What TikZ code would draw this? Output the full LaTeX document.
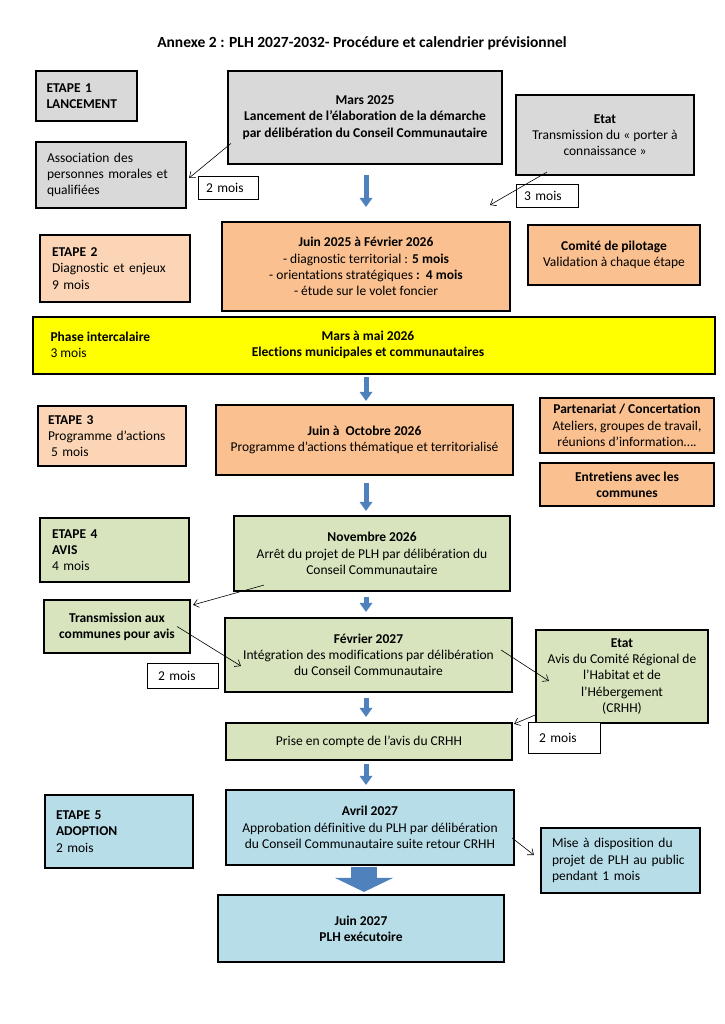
\documentclass[tikz,border=0pt]{standalone}
\usepackage{fontspec}
\setmainfont[Ligatures={TeX,NoCommon}]{Carlito}
\usetikzlibrary{arrows.meta}
\definecolor{grayf}{HTML}{D9D9D9}
\definecolor{orlight}{HTML}{FBD5B5}
\definecolor{ordark}{HTML}{FAC090}
\definecolor{greenf}{HTML}{D7E4BD}
\definecolor{bluef}{HTML}{B7DDE8}
\definecolor{yellowf}{HTML}{FFFF00}
\definecolor{arrowblue}{HTML}{4F81BD}
\newcommand\bx[7]{\node[#6, minimum width={(#4)-(#2)}, minimum height={(#5)-(#3)}] (#1) at ({((#2)+(#4))/2},{((#3)+(#5))/2}) {#7};}
\begin{document}
\begin{tikzpicture}[x=1pt,y=-1pt,
  txt/.style={font=\fontsize{13.5}{16.3}\selectfont},
  box/.style={txt, draw, line width=2.2pt, inner sep=0pt, align=center},
  lbox/.style={box, align=left},
  mbox/.style={txt, draw, line width=0.7pt, fill=white, inner sep=0pt, align=left},
  link/.style={line width=0.6pt, -{Straight Barb[length=5pt,width=8pt]}},
  barrow/.style={line width=5pt, draw=arrowblue, -{Triangle[length=9pt,width=13pt,line width=0pt]}},
  bigarrow/.style={line width=26pt, draw=arrowblue, -{Triangle[length=14pt,width=58pt,line width=0pt]}},
]
\useasboundingbox (0,0) rectangle (724,1024);
\fill[white] (0,0) rectangle (724,1024);

\node[font=\fontsize{15.5}{18}\selectfont] (title) at (362,43) {\textbf{Annexe 2 : PLH 2027-2032- Procédure et calendrier prévisionnel}};

% Etape 1
\bx{e1}{36}{71}{137}{121}{lbox,fill=grayf,text width=80pt}{\textbf{ETAPE 1}\\\textbf{LANCEMENT}}
\bx{mars}{228}{71}{502}{164}{box,fill=grayf}{\textbf{Mars 2025}\\\textbf{Lancement de l’élaboration de la démarche}\\\textbf{par délibération du Conseil Communautaire}}
\bx{etat}{516}{95}{694}{175}{box,fill=grayf}{\textbf{Etat}\\Transmission du « porter à\\connaissance »}
\bx{assoc}{36}{142}{186}{208}{lbox,fill=grayf,text width=128pt}{Association des\\personnes morales et\\qualifiées}
\bx{m1}{198}{176}{258}{199}{mbox,text width=44pt}{2 mois}
\bx{m2}{516}{184}{578}{207}{mbox,text width=46pt}{3 mois}

% Etape 2
\bx{e2}{40}{235}{190}{302}{lbox,fill=orlight,text width=126pt}{\textbf{ETAPE 2}\\Diagnostic et enjeux\\9 mois}
\bx{juin25}{222}{222}{510}{311}{box,fill=ordark}{\textbf{Juin 2025 à Février 2026}\\- diagnostic territorial : \textbf{5 mois}\\- orientations stratégiques \textbf{:\ \ 4 mois}\\- étude sur le volet foncier}
\bx{copil}{528}{225}{700}{285}{box,fill=ordark}{\textbf{Comité de pilotage}\\Validation à chaque étape}

% Phase intercalaire
\bx{phase}{33}{317}{715}{374}{box,fill=yellowf}{}
\node[txt, align=left, anchor=west] (phasel) at (47,345) {\textbf{Phase intercalaire}\\3 mois};
\node[txt, align=center] (phasec) at (368,345) {\textbf{Mars à mai 2026}\\\textbf{Elections municipales et communautaires}};

% Etape 3
\bx{e3}{38}{406}{186}{466}{lbox,fill=orlight,text width=128pt}{\textbf{ETAPE 3}\\Programme d’actions\\\hspace*{3pt}5 mois}
\bx{juinoct}{216}{405}{513}{475}{box,fill=ordark}{\textbf{Juin à\ \ Octobre 2026}\\Programme d’actions thématique et territorialisé}
\bx{parten}{540}{398}{714}{453}{box,fill=ordark}{\textbf{Partenariat / Concertation}\\Ateliers, groupes de travail,\\réunions d’information….}
\bx{entret}{540}{463}{714}{506}{box,fill=ordark}{\textbf{Entretiens avec les}\\\textbf{communes}}

% Etape 4
\bx{e4}{40}{518}{189}{582}{lbox,fill=greenf,text width=125pt}{\textbf{ETAPE 4}\\\textbf{AVIS}\\4 mois}
\bx{nov}{234}{516}{510}{591}{box,fill=greenf}{\textbf{Novembre 2026}\\Arrêt du projet de PLH par délibération du\\Conseil Communautaire}
\bx{trans}{44}{600}{190}{653}{box,fill=greenf}{\textbf{Transmission aux}\\\textbf{communes pour avis}}
\bx{fev}{225}{618}{512}{692}{box,fill=greenf}{\textbf{Février 2027}\\Intégration des modifications par délibération\\du Conseil Communautaire}
\bx{m3}{147}{663}{218}{688}{mbox,text width=49pt}{2 mois}
\bx{etat2}{536}{630}{708}{723}{box,fill=greenf}{\textbf{Etat}\\Avis du Comité Régional de\\l’Habitat et de\\l’Hébergement\\(CRHH)}
\bx{prise}{226}{723}{512}{760}{box,fill=greenf}{Prise en compte de l’avis du CRHH}
\bx{m4}{528}{722}{600}{753}{mbox,text width=50pt}{2 mois}

% Etape 5
\bx{e5}{45}{795}{193}{868}{lbox,fill=bluef,text width=126pt}{\textbf{ETAPE 5}\\\textbf{ADOPTION}\\2 mois}
\bx{avril}{226}{790}{514}{865}{box,fill=bluef}{\textbf{Avril 2027}\\Approbation définitive du PLH par délibération\\du Conseil Communautaire suite retour CRHH}
\bx{mise}{541}{828}{700}{893}{lbox,fill=bluef,text width=137pt}{Mise à disposition du\\projet de PLH au public\\pendant 1 mois}
\bx{juin27}{218}{895}{504}{962}{box,fill=bluef}{\textbf{Juin 2027}\\\textbf{PLH exécutoire}}

% thin connectors
\coordinate (e2end) at (490,205);
\draw[link] ([xshift=4pt,yshift=-26pt]mars.west) -- ([xshift=2pt,yshift=-3pt]assoc.east);
\draw[link] ([xshift=32pt,yshift=4pt]etat.south west) -- (e2end);
\draw[link] ([xshift=31pt,yshift=7pt]nov.south west) -- ([xshift=2pt,yshift=-6pt]trans.north east);
\draw[link] ([xshift=-14pt]trans.east) -- ([xshift=17pt,yshift=-11pt]fev.west);
\draw[link] ([xshift=-12pt,yshift=5pt]fev.east) -- ([xshift=14pt,yshift=-4.5pt]etat2.west);
\draw[link] ([yshift=9pt]etat2.south west) -- ([xshift=1pt,yshift=-2pt]prise.north east);
\draw[link] ([xshift=-3pt,yshift=-10.5pt]avril.east) -- ([xshift=-6pt,yshift=5.5pt]mise.west);

% blue arrows
\coordinate (ax) at (366,0);
\coordinate (bx) at (364,0);
\draw[barrow, shorten <=10pt, shorten >=14pt] (mars.south -| ax) -- (juin25.north -| ax);
\draw[barrow, shorten <=2pt, shorten >=3pt] (phase.south -| ax) -- (juinoct.north -| ax);
\draw[barrow, shorten <=7pt, shorten >=4pt] (juinoct.south -| ax) -- (nov.north -| ax);
\draw[barrow, shorten <=5pt, shorten >=5pt] (nov.south -| ax) -- (fev.north -| ax);
\draw[barrow, shorten <=5pt, shorten >=5pt] (fev.south -| ax) -- (prise.north -| ax);
\draw[barrow, shorten <=3pt, shorten >=4pt] (prise.south -| ax) -- (avril.north -| ax);
\draw[bigarrow, shorten <=1pt, shorten >=2pt] (avril.south -| bx) -- (juin27.north -| bx);
\end{tikzpicture}
\end{document}
